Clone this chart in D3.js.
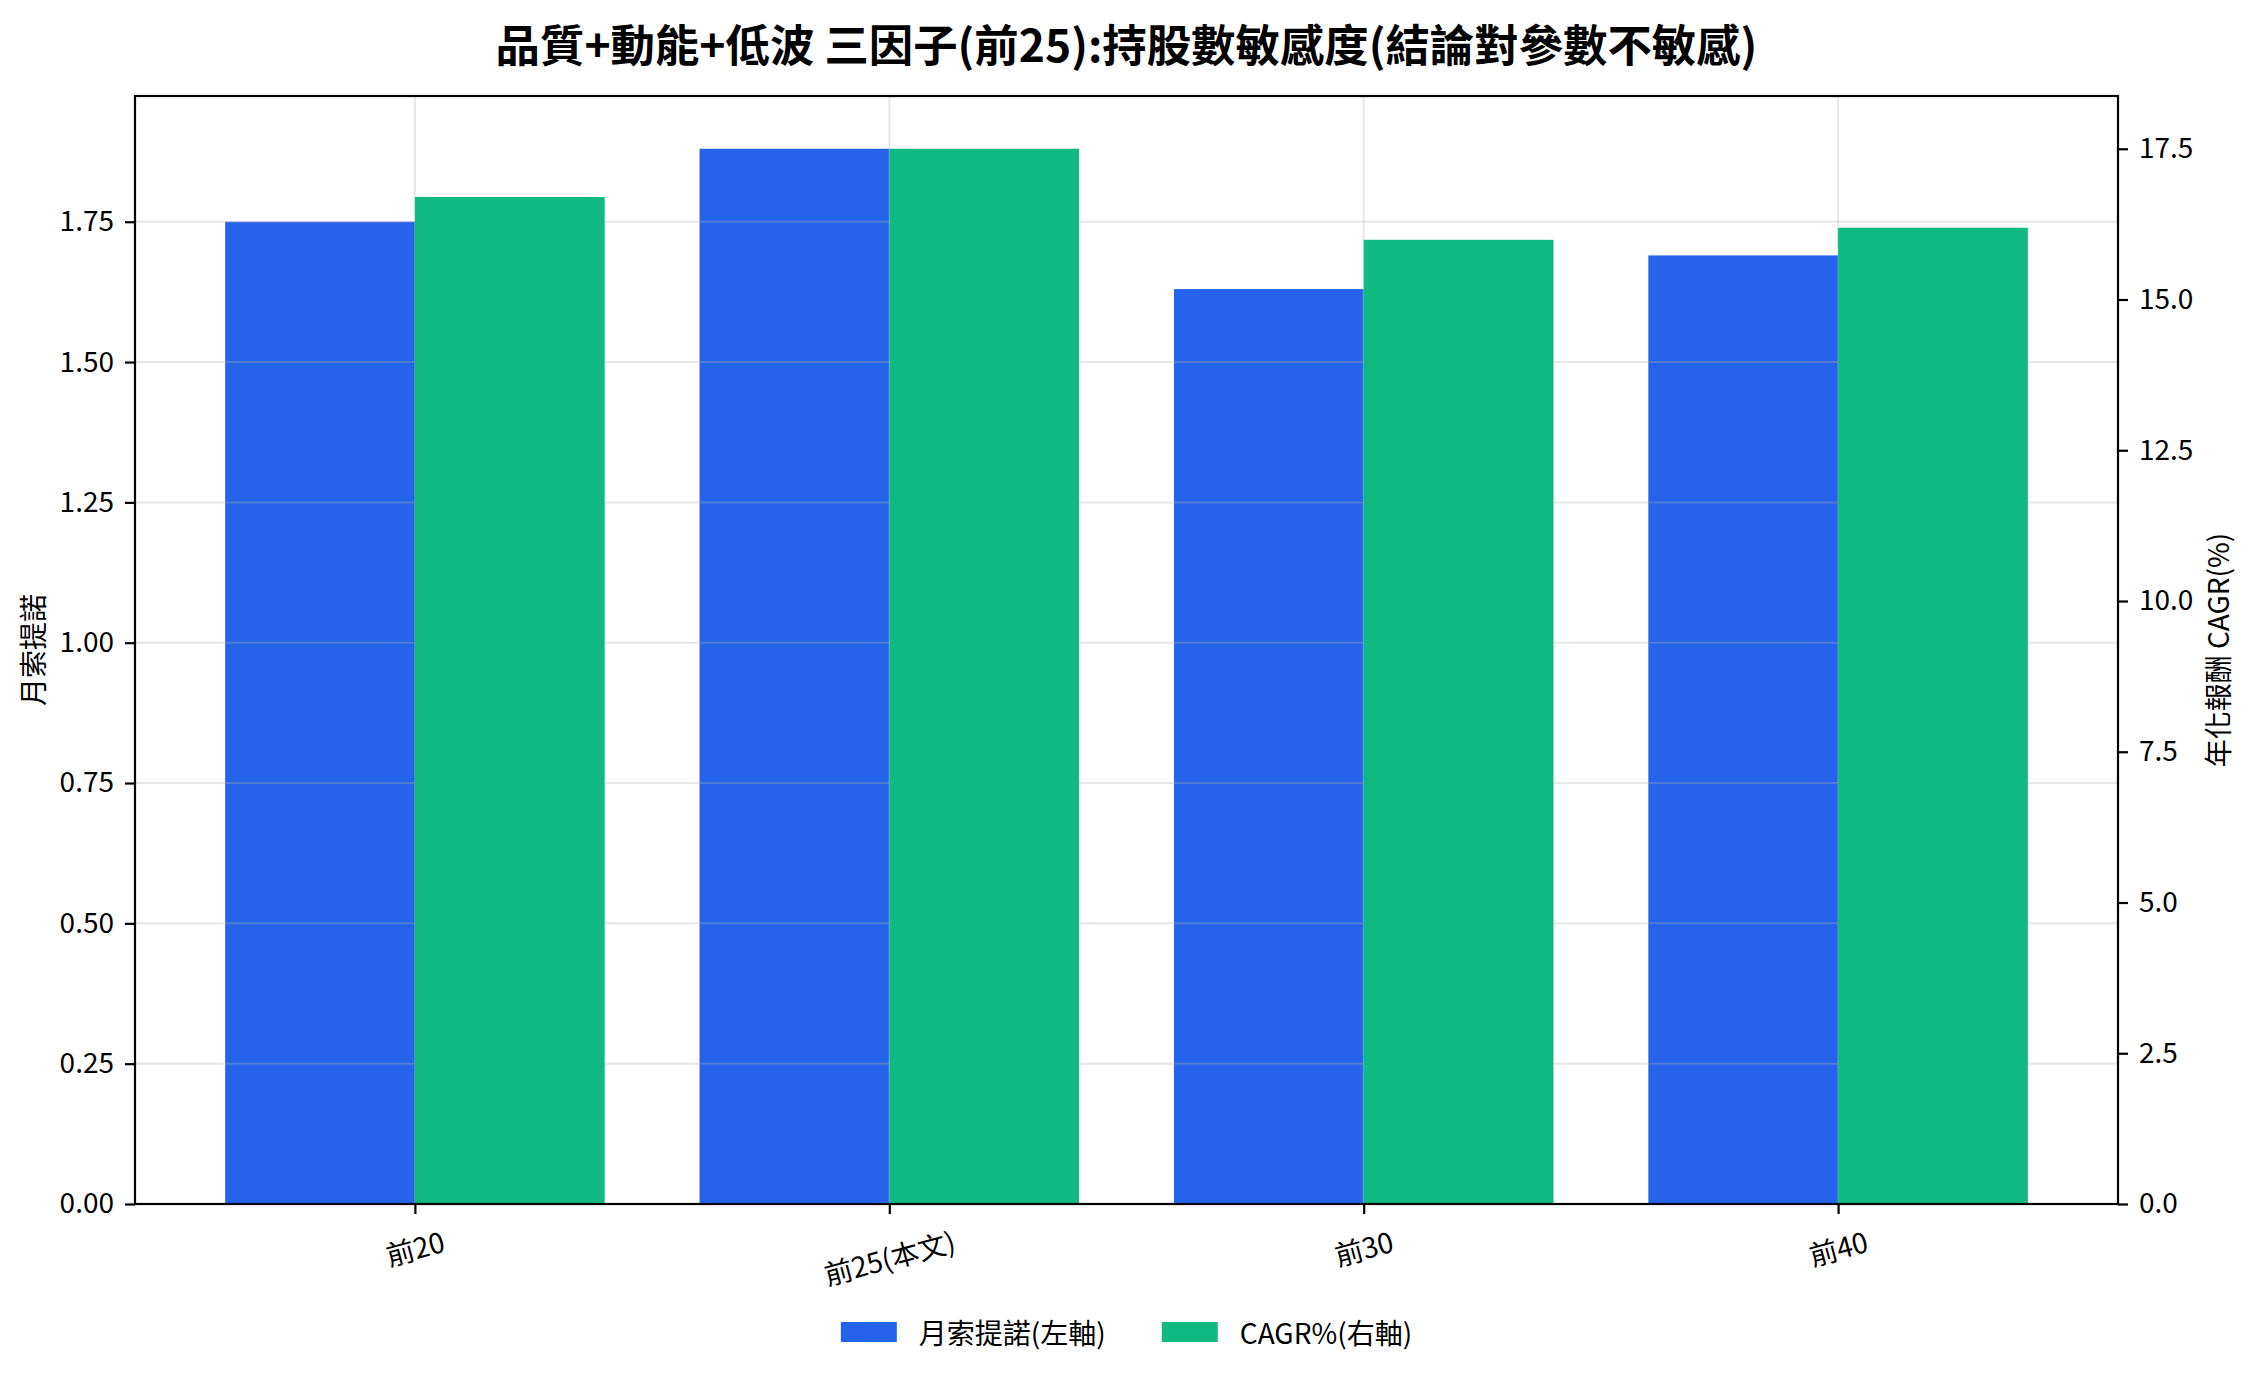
<!DOCTYPE html>
<html>
<head>
<meta charset="utf-8">
<script src="https://cdn.jsdelivr.net/npm/d3@7"></script>
<style>
  body { margin: 0; background: #fff; }
  svg text { font-family: "Noto Sans CJK TC", "Noto Sans CJK SC", "Noto Sans", sans-serif; fill: #000; }
</style>
</head>
<body>
<div id="chart"></div>
<script>
/* chart data */
var categories = ["前20", "前25(本文)", "前30", "前40"];
var sortinoValues = [1.75, 1.88, 1.63, 1.69];
var cagrValues = [16.70, 17.50, 15.99, 16.19];
var leftTicks = [0, 0.25, 0.5, 0.75, 1.0, 1.25, 1.5, 1.75];
var rightTicks = [0, 2.5, 5, 7.5, 10, 12.5, 15, 17.5];
var seriesNames = ["月索提諾(左軸)", "CAGR%(右軸)"];
var seriesColors = ["#2563eb", "#10b981"];

var W = 2253, H = 1380;
var margin = { top: 96, right: 135, bottom: 176, left: 135 };
var width = W - margin.left - margin.right;
var height = H - margin.top - margin.bottom;
var barW = 0.4;

var svg = d3.select("#chart").append("svg")
    .attr("width", W)
    .attr("height", H);
svg.append("rect").attr("width", W).attr("height", H).attr("fill", "#fff");

// numeric band positions like matplotlib bars
var x = d3.scaleLinear()
    .domain([-0.59, categories.length - 1 + 0.59])
    .range([margin.left, margin.left + width]);
var yL = d3.scaleLinear()
    .domain([0, d3.max(sortinoValues) * 1.05])
    .range([margin.top + height, margin.top]);
var yR = d3.scaleLinear()
    .domain([0, d3.max(cagrValues) * 1.05])
    .range([margin.top + height, margin.top]);

// left series bars
svg.append("g").selectAll("rect")
    .data(sortinoValues)
    .join("rect")
    .attr("x", function (d, i) { return x(i - barW); })
    .attr("width", function (d, i) { return x(i) - x(i - barW); })
    .attr("y", function (d) { return yL(d); })
    .attr("height", function (d) { return yL(0) - yL(d); })
    .attr("fill", seriesColors[0]);

// grid sits above the left bars, under the twin axis bars
var grid = svg.append("g")
    .attr("stroke", "#b0b0b0")
    .attr("stroke-opacity", 0.3)
    .attr("stroke-width", 2);
grid.selectAll(".gh")
    .data(leftTicks)
    .join("line")
    .attr("x1", margin.left).attr("x2", margin.left + width)
    .attr("y1", function (d) { return yL(d); })
    .attr("y2", function (d) { return yL(d); });
grid.selectAll(".gv")
    .data(categories)
    .join("line")
    .attr("x1", function (d, i) { return x(i); })
    .attr("x2", function (d, i) { return x(i); })
    .attr("y1", margin.top).attr("y2", margin.top + height);

// right series bars
svg.append("g").selectAll("rect")
    .data(cagrValues)
    .join("rect")
    .attr("x", function (d, i) { return x(i); })
    .attr("width", function (d, i) { return x(i + barW) - x(i); })
    .attr("y", function (d) { return yR(d); })
    .attr("height", function (d) { return yR(0) - yR(d); })
    .attr("fill", seriesColors[1]);

// axes
var leftAxis = d3.axisLeft(yL).tickValues(leftTicks).tickFormat(d3.format(".2f"))
    .tickSize(10).tickPadding(11);
var rightAxis = d3.axisRight(yR).tickValues(rightTicks).tickFormat(d3.format(".1f"))
    .tickSize(10).tickPadding(11);
var bottomAxis = d3.axisBottom(x).tickValues(d3.range(categories.length))
    .tickFormat("").tickSize(10);

function styleAxis(g) {
  g.select(".domain").remove();
  g.selectAll(".tick line").attr("stroke", "#000").attr("stroke-width", 2.2);
  g.selectAll(".tick text").attr("font-size", 28).attr("fill", "#000");
}

svg.append("g")
    .attr("transform", "translate(" + margin.left + ",0)")
    .call(leftAxis).call(styleAxis);
svg.append("g")
    .attr("transform", "translate(" + (margin.left + width) + ",0)")
    .call(rightAxis).call(styleAxis);
svg.append("g")
    .attr("transform", "translate(0," + (margin.top + height) + ")")
    .call(bottomAxis).call(styleAxis);

// rotated category labels (centered on tick)
var xl = svg.append("g").selectAll("text")
    .data(categories)
    .join("text")
    .attr("font-size", 28)
    .attr("text-anchor", "middle")
    .attr("dominant-baseline", "central")
    .text(function (d) { return d; });
xl.each(function (d, i) {
  var w = this.getComputedTextLength();
  var rh = w * Math.sin(15 * Math.PI / 180) + 28 * Math.cos(15 * Math.PI / 180);
  var cx = x(i), cy = margin.top + height + 22 + rh / 2;
  d3.select(this)
      .attr("x", cx).attr("y", cy)
      .attr("transform", "rotate(-15," + cx + "," + cy + ")");
});

// frame
svg.append("rect")
    .attr("x", margin.left).attr("y", margin.top)
    .attr("width", width).attr("height", height)
    .attr("fill", "none")
    .attr("stroke", "#000")
    .attr("stroke-width", 2.2);

// title and axis labels
svg.append("text")
    .attr("x", margin.left + width / 2)
    .attr("y", 42)
    .attr("text-anchor", "middle")
    .attr("dominant-baseline", "central")
    .attr("font-size", 44.4)
    .attr("font-weight", "bold")
    .text("品質+動能+低波 三因子(前25):持股數敏感度(結論對參數不敏感)");

svg.append("text")
    .attr("transform", "translate(32," + (margin.top + height / 2) + ") rotate(-90)")
    .attr("text-anchor", "middle")
    .attr("dominant-baseline", "central")
    .attr("font-size", 28)
    .text("月索提諾");

svg.append("text")
    .attr("transform", "translate(2217," + (margin.top + height / 2) + ") rotate(-90)")
    .attr("text-anchor", "middle")
    .attr("dominant-baseline", "central")
    .attr("font-size", 28)
    .text("年化報酬 CAGR(%)");

// legend, centered under plot
var legend = svg.append("g");
var items = legend.selectAll("g")
    .data(seriesNames)
    .join("g");
items.append("rect")
    .attr("width", 56).attr("height", 20)
    .attr("y", -10)
    .attr("fill", function (d, i) { return seriesColors[i]; });
items.append("text")
    .attr("x", 78)
    .attr("dominant-baseline", "central")
    .attr("font-size", 28)
    .text(function (d) { return d; });
var offset = 0;
items.each(function () {
  d3.select(this).attr("transform", "translate(" + offset + ",0)");
  offset += 78 + d3.select(this).select("text").node().getComputedTextLength() + 56;
});
var total = offset - 56;
legend.attr("transform", "translate(" + (margin.left + width / 2 - total / 2) + ",1332)");
</script>
</body>
</html>
